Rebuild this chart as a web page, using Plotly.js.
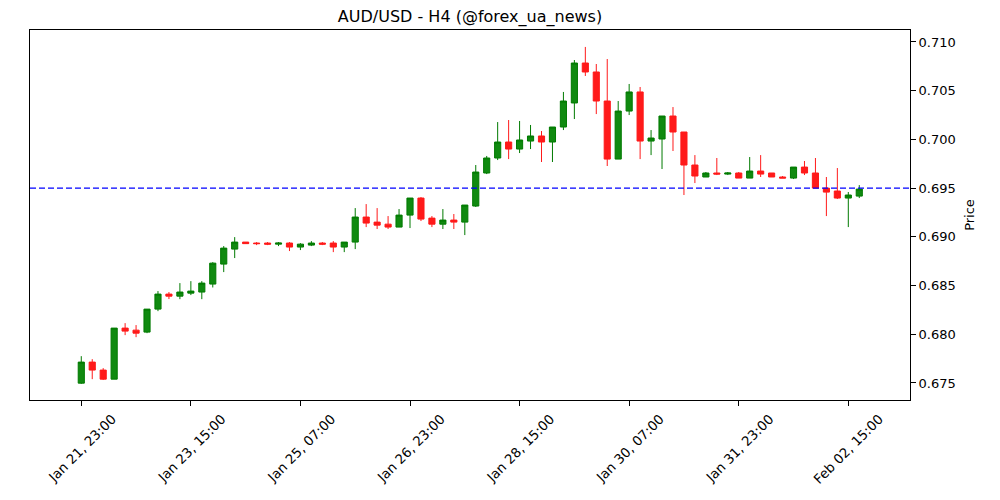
<!DOCTYPE html>
<html>
<head>
<meta charset="utf-8">
<script src="https://cdn.plot.ly/plotly-3.0.1.min.js"></script>
<style>html,body{margin:0;padding:0;background:#fff;}#chart{width:1000px;height:500px;}</style>
</head>
<body>
<div id="chart"></div>
<script>
// H4 candles, first candle Jan 21, 23:00, 4-hour steps
const openP  = [0.67498,0.67714,0.67632,0.67539,0.68063,0.68042,0.68022,0.68258,0.68412,0.68391,
                0.68422,0.68433,0.68515,0.68720,0.68874,0.68946,0.68936,0.68936,0.68925,0.68936,
                0.68895,0.68915,0.68936,0.68936,0.68895,0.68946,0.69203,0.69151,0.69130,0.69100,
                0.69223,0.69398,0.69192,0.69130,0.69172,0.69151,0.69316,0.69655,0.69809,0.69973,
                0.69901,0.69983,0.70035,0.69973,0.70127,0.70374,0.70784,0.70692,0.70394,0.69798,
                0.70291,0.70487,0.69983,0.70004,0.70240,0.70076,0.69737,0.69614,0.69655,0.69644,
                0.69655,0.69603,0.69675,0.69655,0.69614,0.69603,0.69716,0.69655,0.69500,0.69470,
                0.69398,0.69418];
const highP  = [0.67775,0.67744,0.67652,0.68063,0.68114,0.68094,0.68258,0.68443,0.68433,0.68525,
                0.68545,0.68545,0.68740,0.68905,0.68997,0.68946,0.68946,0.68946,0.68946,0.68946,
                0.68935,0.68956,0.68946,0.68956,0.68946,0.69295,0.69336,0.69295,0.69213,0.69285,
                0.69398,0.69408,0.69213,0.69285,0.69234,0.69326,0.69737,0.69830,0.70178,0.70199,
                0.70189,0.70148,0.70086,0.70127,0.70487,0.70815,0.70949,0.70774,0.70825,0.70394,
                0.70569,0.70538,0.70096,0.70240,0.70332,0.70076,0.69839,0.69665,0.69809,0.69665,
                0.69665,0.69819,0.69839,0.69655,0.69624,0.69716,0.69778,0.69809,0.69614,0.69706,
                0.69460,0.69531];
const lowP   = [0.67490,0.67539,0.67530,0.67539,0.67991,0.67970,0.68011,0.68237,0.68361,0.68360,
                0.68402,0.68360,0.68480,0.68638,0.68782,0.68930,0.68915,0.68915,0.68905,0.68854,
                0.68864,0.68905,0.68915,0.68843,0.68843,0.68874,0.69100,0.69080,0.69080,0.69100,
                0.69090,0.69162,0.69100,0.69080,0.69080,0.69018,0.69306,0.69644,0.69788,0.69798,
                0.69860,0.69901,0.69768,0.69768,0.70096,0.70209,0.70651,0.70260,0.69727,0.69798,
                0.70250,0.69798,0.69839,0.69696,0.69881,0.69429,0.69552,0.69614,0.69634,0.69634,
                0.69603,0.69603,0.69614,0.69614,0.69603,0.69593,0.69634,0.69500,0.69213,0.69388,
                0.69100,0.69398];
const closeP = [0.67714,0.67632,0.67539,0.68063,0.68032,0.68011,0.68258,0.68412,0.68391,0.68433,
                0.68443,0.68525,0.68730,0.68884,0.68946,0.68930,0.68930,0.68925,0.68936,0.68895,
                0.68925,0.68936,0.68925,0.68895,0.68946,0.69203,0.69141,0.69120,0.69100,0.69223,
                0.69398,0.69182,0.69130,0.69172,0.69151,0.69326,0.69665,0.69809,0.69973,0.69901,
                0.69994,0.70035,0.69973,0.70127,0.70394,0.70784,0.70692,0.70394,0.69798,0.70291,
                0.70487,0.69983,0.70014,0.70240,0.70076,0.69737,0.69624,0.69655,0.69644,0.69655,
                0.69603,0.69675,0.69644,0.69614,0.69603,0.69716,0.69655,0.69500,0.69459,0.69398,
                0.69429,0.69490];
const tickIdx    = [0, 10, 20, 30, 40, 50, 60, 70];
const tickLabels = ["Jan 21, 23:00","Jan 23, 15:00","Jan 25, 07:00","Jan 26, 23:00",
                    "Jan 28, 15:00","Jan 30, 07:00","Jan 31, 23:00","Feb 02, 15:00"];
const refLevel = 0.695;
const yTicks = [0.675,0.680,0.685,0.690,0.695,0.700,0.705,0.710];

const xIdx = openP.map((_, i) => i);

const trace = {
  type: 'candlestick',
  x: xIdx, open: openP, high: highP, low: lowP, close: closeP,
  increasing: {line: {color: '#007a00', width: 1}, fillcolor: '#108a10'},
  decreasing: {line: {color: '#ff1a1a', width: 1}, fillcolor: '#ff1a1a'},
  whiskerwidth: 0,
  showlegend: false
};

const layout = {
  width: 1000, height: 500,
  margin: {l: 30, r: 90, t: 30, b: 100},
  paper_bgcolor: '#fff', plot_bgcolor: '#fff',
  font: {family: 'DejaVu Sans, sans-serif', size: 13, color: '#000'},
  title: {text: 'AUD/USD - H4 (@forex_ua_news)', font: {size: 16, color: '#000'},
          x: 0.47, xanchor: 'center', y: 0.968, yanchor: 'middle', yref: 'container'},
  boxgap: 0.2,
  xaxis: {
    range: [-4.68, 75.63], tickmode: 'array', tickvals: tickIdx, ticktext: tickLabels,
    tickangle: -45, ticklabelshift: 31, tickfont: {size: 13.3},
    ticks: 'outside', ticklen: 5, tickcolor: '#000',
    showgrid: false, zeroline: false, showline: true, linecolor: '#000', mirror: true,
    rangeslider: {visible: false}, fixedrange: true
  },
  yaxis: {
    side: 'right', range: [0.67325, 0.71123], tickmode: 'array', tickvals: yTicks,
    tickformat: '.3f', ticks: 'outside', ticklen: 5, tickcolor: '#000',
    showgrid: false, zeroline: false, showline: true, linecolor: '#000', mirror: true,
    title: {text: 'Price', font: {size: 13}, standoff: 10}
  },
  shapes: [{type: 'line', xref: 'paper', x0: 0, x1: 1, yref: 'y', y0: refLevel, y1: refLevel,
            line: {color: 'blue', width: 1.2, dash: '6px,3px'}}]
};

Plotly.newPlot('chart', [trace], layout, {displayModeBar: false, staticPlot: true});
</script>
</body>
</html>
